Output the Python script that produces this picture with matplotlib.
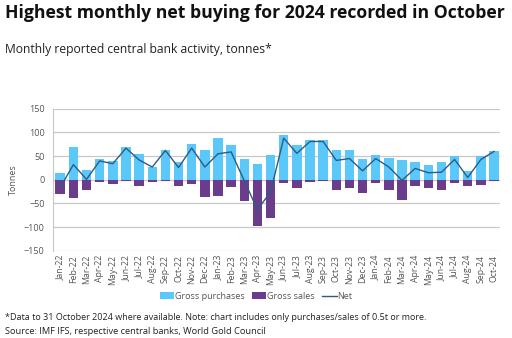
import numpy as np
import matplotlib.pyplot as plt

plt.rcParams['font.family'] = ['Open Sans', 'DejaVu Sans']

months = ["Jan-22", "Feb-22", "Mar-22", "Apr-22", "May-22", "Jun-22", "Jul-22", "Aug-22",
          "Sep-22", "Oct-22", "Nov-22", "Dec-22", "Jan-23", "Feb-23", "Mar-23", "Apr-23",
          "May-23", "Jun-23", "Jul-23", "Aug-23", "Sep-23", "Oct-23", "Nov-23", "Dec-23",
          "Jan-24", "Feb-24", "Mar-24", "Apr-24", "May-24", "Jun-24", "Jul-24", "Aug-24",
          "Sep-24", "Oct-24"]
gross_purchases = [14, 70, 21, 43, 40, 69, 55, 28, 63, 38, 76, 63, 89, 73, 43, 33,
                   52, 94, 73, 84, 84, 62, 62, 44, 52, 46, 41, 38, 31, 38, 50, 18,
                   51, 61]
gross_sales = [-31, -39, -21, -4, -8, -2, -14, -4, -2, -13, -9, -37, -35, -15, -45, -98,
               -80, -6, -18, -4, -2, -22, -17, -27, -7, -21, -43, -14, -18, -21, -7, -14,
               -11, -2]
net = [-16, 32, 1, 40, 34, 67, 42, 27, 62, 26, 67, 27, 55, 59, -2, -63,
       -26, 88, 56, 81, 81, 41, 45, 19, 45, 27, -1, 24, 15, 16, 43, 5,
       43, 60]

fig = plt.figure(figsize=(5.12, 3.38), dpi=100)
ax = fig.add_axes([0.1035, 0.258, 0.873, 0.42])

x = np.arange(len(months))
b1 = ax.bar(x, gross_purchases, width=0.72, color='#5BC8FA', label='Gross purchases', zorder=2)
b2 = ax.bar(x, gross_sales, width=0.72, color='#6B3C8C', label='Gross sales', zorder=2)
l1, = ax.plot(x, net, color='#2D5B86', lw=1.0, label='Net', zorder=3)

ax.set_xlim(-0.55, 33.45)
ax.set_ylim(-150, 150)
ax.set_yticks(np.arange(-150, 151, 50))
ax.yaxis.grid(True, color='#C8C8C8', lw=0.9, zorder=0)
ax.set_xticks(x)
ax.set_xticklabels(months, rotation=90, fontsize=6.3, color='#555555')
ax.tick_params(axis='y', labelsize=6.5, colors='#555555', length=0, pad=6)
ax.tick_params(axis='x', length=0, pad=3)
for s in ['top', 'right', 'bottom']:
    ax.spines[s].set_visible(False)
ax.spines['left'].set_color('#C8C8C8')
ax.set_ylabel('Tonnes', fontsize=6.5, color='#555555', labelpad=4)

leg = fig.legend([b1, b2, l1], ['Gross purchases', 'Gross sales', 'Net'],
                 loc='center', bbox_to_anchor=(0.5, 0.123), ncol=3, frameon=False,
                 fontsize=6.5, handlelength=1.6, handleheight=0.8, columnspacing=0.8,
                 handletextpad=0.1)
for t in leg.get_texts():
    t.set_color('#555555')

fig.text(0.01, 0.962, 'Highest monthly net buying for 2024 recorded in October',
         fontsize=12.7, fontweight='bold', va='center', color='#111111')
fig.text(0.01, 0.855, 'Monthly reported central bank activity, tonnes*',
         fontsize=8.7, va='center', color='#222222')
fig.text(0.01, 0.062, '*Data to 31 October 2024 where available. Note: chart includes only purchases/sales of 0.5t or more.',
         fontsize=6.45, va='center', color='#222222')
fig.text(0.01, 0.02, 'Source: IMF IFS, respective central banks, World Gold Council',
         fontsize=6.7, va='center', color='#222222')

fig.savefig('out.png', dpi=100)
